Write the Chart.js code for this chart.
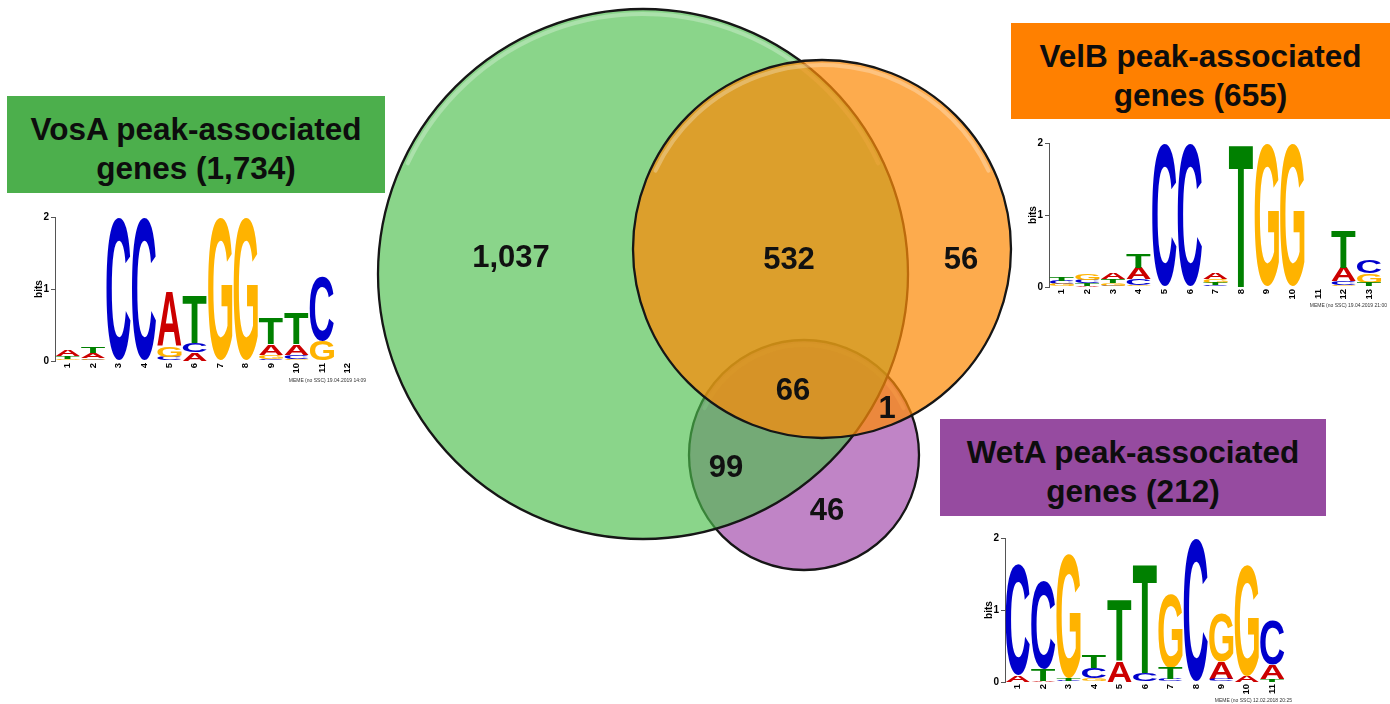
<!DOCTYPE html>
<html>
<head>
<meta charset="utf-8">
<script src="https://cdn.jsdelivr.net/npm/chart.js@4.4.1/dist/chart.umd.min.js"></script>
<style>
  html, body { margin: 0; padding: 0; background: #fff; width: 1390px; height: 704px; overflow: hidden; }
  canvas { position: absolute; }
  .tag {
    position: absolute; box-sizing: border-box; text-align: center; color: #0d0d0d;
    font-family: "Liberation Sans", Arial, sans-serif; font-weight: bold;
    font-size: 31.5px; line-height: 39px;
  }
</style>
</head>
<body>
<canvas id="venn" width="1390" height="704" style="left:0;top:0"></canvas>
<canvas id="logoVosA"></canvas>
<canvas id="logoVelB"></canvas>
<canvas id="logoWetA"></canvas>
<div class="tag" id="tag0"></div>
<div class="tag" id="tag1"></div>
<div class="tag" id="tag2"></div>

<script>
// ---- gene sets and overlap counts ----
const setNames  = ['VosA', 'VelB', 'WetA'];
const setTotals = [1734, 655, 212];
const regionNames  = ['VosA only', 'VosA+VelB', 'VelB only', 'VosA+VelB+WetA', 'VelB+WetA', 'VosA+WetA', 'WetA only'];
const regionCounts = [1037, 532, 56, 66, 1, 99, 46];

// ---- motif logos: information content (bits) per letter and position ----
const vosaPos = ['1','2','3','4','5','6','7','8','9','10','11','12'];
const vosaA = [0.08, 0.07, 0,    0,    0.75, 0.12, 0,    0,    0.14, 0.14, 0,    0.01];
const vosaC = [0,    0.02, 1.98, 1.98, 0.06, 0.13, 0,    0,    0.03, 0.06, 0.90, 0];
const vosaG = [0.03, 0.02, 0,    0,    0.15, 0,    1.99, 1.99, 0.06, 0.03, 0.28, 0];
const vosaT = [0.04, 0.09, 0,    0,    0,    0.66, 0,    0,    0.35, 0.44, 0,    0];

const velbPos = ['1','2','3','4','5','6','7','8','9','10','11','12','13'];
const velbA = [0.01, 0.02, 0.09, 0.16, 0,    0,    0.08, 0,    0,    0,    0, 0.19, 0.01];
const velbC = [0.05, 0.05, 0.02, 0.09, 1.98, 1.98, 0.03, 0,    0,    0,    0, 0.06, 0.19];
const velbG = [0.03, 0.09, 0.04, 0.02, 0,    0,    0.05, 0,    1.98, 1.98, 0, 0.02, 0.13];
const velbT = [0.06, 0.03, 0.05, 0.20, 0,    0,    0.03, 1.99, 0,    0,    0, 0.53, 0.05];

const wetaPos = ['1','2','3','4','5','6','7','8','9','10','11'];
const wetaA = [0.10, 0.02, 0,    0,    0.30, 0,    0,    0,    0.24, 0.09, 0.20];
const wetaC = [1.53, 1.23, 0.02, 0.15, 0,    0.12, 0.04, 1.99, 0.04, 0,    0.63];
const wetaG = [0,    0,    1.72, 0.05, 0,    0,    1.02, 0,    0.67, 1.53, 0];
const wetaT = [0,    0.16, 0.04, 0.17, 0.85, 1.51, 0.16, 0,    0,    0,    0.04];

const vosaStamp = 'MEME (no SSC) 19.04.2019 14:09';
const velbStamp = 'MEME (no SSC) 19.04.2019 21:00';
const wetaStamp = 'MEME (no SSC) 12.02.2018 20:25';

// ---- layout (page pixels) ----
const FONT = '"Liberation Sans", Arial, sans-serif';
const circleLayout = [
  { x: 643, y: 274, r: 265 },   // VosA
  { x: 822, y: 249, r: 189 },   // VelB
  { x: 804, y: 455, r: 115 }    // WetA
];
const circleFill = ['rgba(76,190,76,0.65)', 'rgba(252,138,9,0.72)', 'rgba(150,50,160,0.6)'];
const circleOrder = [1, 0, 2];   // lower order is painted on top
const regionLabelAt = [[511, 257], [789, 259], [961, 259], [793, 390], [887, 408], [726, 467], [827, 510]];
const tagBoxes = [
  { left: 7,    top: 96,  width: 378, height: 97, bg: '#4caf4c' },
  { left: 1011, top: 23,  width: 379, height: 96, bg: '#ff8000' },
  { left: 940,  top: 419, width: 386, height: 97, bg: '#964ba0' }
];

// ---- set name boxes ----
setNames.forEach((name, i) => {
  const el = document.getElementById('tag' + i);
  const b = tagBoxes[i];
  Object.assign(el.style, {
    left: b.left + 'px', top: b.top + 'px', width: b.width + 'px', height: b.height + 'px',
    background: b.bg, paddingTop: '14px'
  });
  el.innerHTML = name + ' peak-associated<br>genes (' + setTotals[i].toLocaleString('en-US') + ')';
});

// ---- Venn diagram ----
// soft highlight just inside the upper rim of each circle
const glossPlugin = {
  id: 'gloss',
  afterDatasetDraw(chart, args) {
    const el = args.meta.data[0];
    if (!el || !(el.options.radius > 10)) return;
    const { x, y } = el.getProps(['x', 'y'], true);
    const r = el.options.radius;
    const ctx = chart.ctx;
    ctx.save();
    ctx.lineCap = 'round';
    ctx.strokeStyle = 'rgba(255,255,255,0.28)';
    ctx.lineWidth = 4;
    ctx.beginPath();
    ctx.arc(x, y, r - 5, Math.PI * 1.14, Math.PI * 1.86);
    ctx.stroke();
    ctx.restore();
  }
};

const regionLabelPlugin = {
  id: 'regionLabels',
  afterDatasetsDraw(chart) {
    const { ctx, scales } = chart;
    ctx.save();
    ctx.font = 'bold 31px ' + FONT;
    ctx.fillStyle = '#111';
    ctx.textAlign = 'center';
    ctx.textBaseline = 'middle';
    regionCounts.forEach((n, i) => {
      const [px, py] = regionLabelAt[i];
      ctx.fillText(n.toLocaleString('en-US'),
        scales.x.getPixelForValue(px), scales.y.getPixelForValue(py) + 1);
    });
    ctx.restore();
  }
};

const vennChart = new Chart(document.getElementById('venn'), {
  type: 'scatter',
  data: {
    datasets: setNames.map((name, i) => ({
      label: name,
      order: circleOrder[i],
      data: [{ x: circleLayout[i].x, y: circleLayout[i].y }],
      pointBackgroundColor: circleFill[i],
      pointBorderColor: '#161616',
      pointBorderWidth: 2.3,
      pointRadius: 0,
      pointHoverRadius: 0,
      clip: false
    }))
  },
  options: {
    responsive: false, animation: false, events: [],
    layout: { padding: 0, autoPadding: false },
    plugins: { legend: { display: false }, tooltip: { enabled: false } },
    scales: {
      x: { type: 'linear', min: 0, max: 1390, display: false },
      y: { type: 'linear', min: 0, max: 704, reverse: true, display: false }
    }
  },
  plugins: [glossPlugin, regionLabelPlugin]
});

// circle radii are given in data units; convert them through the x scale
const sx = vennChart.scales.x;
vennChart.data.datasets.forEach((ds, i) => {
  const px = sx.getPixelForValue(circleLayout[i].r) - sx.getPixelForValue(0);
  ds.pointRadius = px;
  ds.pointHoverRadius = px;
});
vennChart.update('none');

// ---- sequence logos ----
const LETTERS = ['A', 'C', 'G', 'T'];
const LETTER_COLORS = { A: '#cc0000', C: '#0000cc', G: '#ffb300', T: '#008000' };

// stack letters at each position: smallest at the bottom, tallest on top
function stackRanges(h) {
  const out = { A: [], C: [], G: [], T: [] };
  for (let i = 0; i < h.A.length; i++) {
    const order = LETTERS.slice().sort((a, b) => h[a][i] - h[b][i]);
    let base = 0;
    order.forEach(L => { out[L][i] = [base, base + h[L][i]]; base += h[L][i]; });
  }
  return out;
}

function drawGlyph(ctx, L, color, x, y, w, h) {
  ctx.save();
  ctx.font = 'bold 100px ' + FONT;
  ctx.textAlign = 'left';
  ctx.textBaseline = 'alphabetic';
  const m = ctx.measureText(L);
  const gw = m.actualBoundingBoxLeft + m.actualBoundingBoxRight;
  const gh = m.actualBoundingBoxAscent + m.actualBoundingBoxDescent;
  ctx.translate(x, y);
  ctx.scale(w / gw, h / gh);
  ctx.fillStyle = color;
  ctx.fillText(L, m.actualBoundingBoxLeft, m.actualBoundingBoxAscent);
  ctx.restore();
}

const glyphPlugin = {
  id: 'glyphs',
  afterDatasetsDraw(chart) {
    const ctx = chart.ctx;
    chart.data.datasets.forEach((ds, di) => {
      chart.getDatasetMeta(di).data.forEach(el => {
        const { x, y, base, width } = el.getProps(['x', 'y', 'base', 'width'], true);
        const top = Math.min(y, base), hh = Math.abs(base - y);
        if (hh < 0.3) return;
        drawGlyph(ctx, ds.label, LETTER_COLORS[ds.label], x - width / 2, top, width, hh);
      });
    });
  }
};

const logoTextPlugin = {
  id: 'logoText',
  afterDraw(chart, args, opts) {
    const { ctx, chartArea, scales } = chart;
    ctx.save();
    ctx.fillStyle = '#000';
    ctx.font = 'bold 10px ' + FONT;
    ctx.translate(chartArea.left - 16, scales.y.getPixelForValue(1));
    ctx.rotate(-Math.PI / 2);
    ctx.textAlign = 'center';
    ctx.textBaseline = 'middle';
    ctx.fillText('bits', 0, 0);
    ctx.restore();
    ctx.save();
    ctx.font = '5px ' + FONT;
    ctx.fillStyle = '#333';
    ctx.textAlign = 'right';
    ctx.textBaseline = 'alphabetic';
    ctx.fillText(opts.stamp, chartArea.right + opts.dx, chartArea.bottom + opts.dy);
    ctx.restore();
  }
};

function makeLogo(id, area, labels, heights, stamp, dx, dy) {
  const M = { l: 30, t: 8, r: 12, b: 26 };
  const canvas = document.getElementById(id);
  canvas.width = area.right - area.left + M.l + M.r;
  canvas.height = area.bottom - area.top + M.t + M.b;
  canvas.style.left = (area.left - M.l) + 'px';
  canvas.style.top = (area.top - M.t) + 'px';
  const ranges = stackRanges(heights);
  new Chart(canvas, {
    type: 'bar',
    data: {
      labels: labels,
      datasets: LETTERS.map(L => ({
        label: L,
        data: ranges[L],
        grouped: false,
        backgroundColor: 'rgba(0,0,0,0)',
        borderWidth: 0,
        barPercentage: 0.95,
        categoryPercentage: 1
      }))
    },
    options: {
      responsive: false, animation: false, events: [],
      layout: { padding: { left: 0, top: M.t, right: M.r, bottom: 0 } },
      plugins: {
        legend: { display: false }, tooltip: { enabled: false },
        logoText: { stamp: stamp, dx: dx, dy: dy }
      },
      scales: {
        x: {
          type: 'category',
          grid: { display: false, drawTicks: false }, border: { display: false },
          ticks: { minRotation: 90, maxRotation: 90, autoSkip: false, padding: 2, color: '#000',
                   font: { family: FONT, weight: 'bold', size: 9.5 } },
          afterFit(s) { s.height = M.b; }
        },
        y: {
          min: 0, max: 2,
          grid: { display: true, drawOnChartArea: false, drawTicks: true, tickLength: 4, color: '#555' },
          border: { display: true, color: '#555', width: 1 },
          ticks: { stepSize: 1, padding: 2, color: '#000', font: { family: FONT, weight: 'bold', size: 10 } },
          afterFit(s) { s.width = M.l; }
        }
      }
    },
    plugins: [glyphPlugin, logoTextPlugin]
  });
}

makeLogo('logoVosA', { left: 55.3, right: 360.7, top: 217, bottom: 361 }, vosaPos,
  { A: vosaA, C: vosaC, G: vosaG, T: vosaT }, vosaStamp, 6, 21);
makeLogo('logoVelB', { left: 1049.2, right: 1382.8, top: 143, bottom: 287 }, velbPos,
  { A: velbA, C: velbC, G: velbG, T: velbT }, velbStamp, 5, 20);
makeLogo('logoWetA', { left: 1005.3, right: 1285.8, top: 538, bottom: 682 }, wetaPos,
  { A: wetaA, C: wetaC, G: wetaG, T: wetaT }, wetaStamp, 7, 20);
</script>
</body>
</html>
